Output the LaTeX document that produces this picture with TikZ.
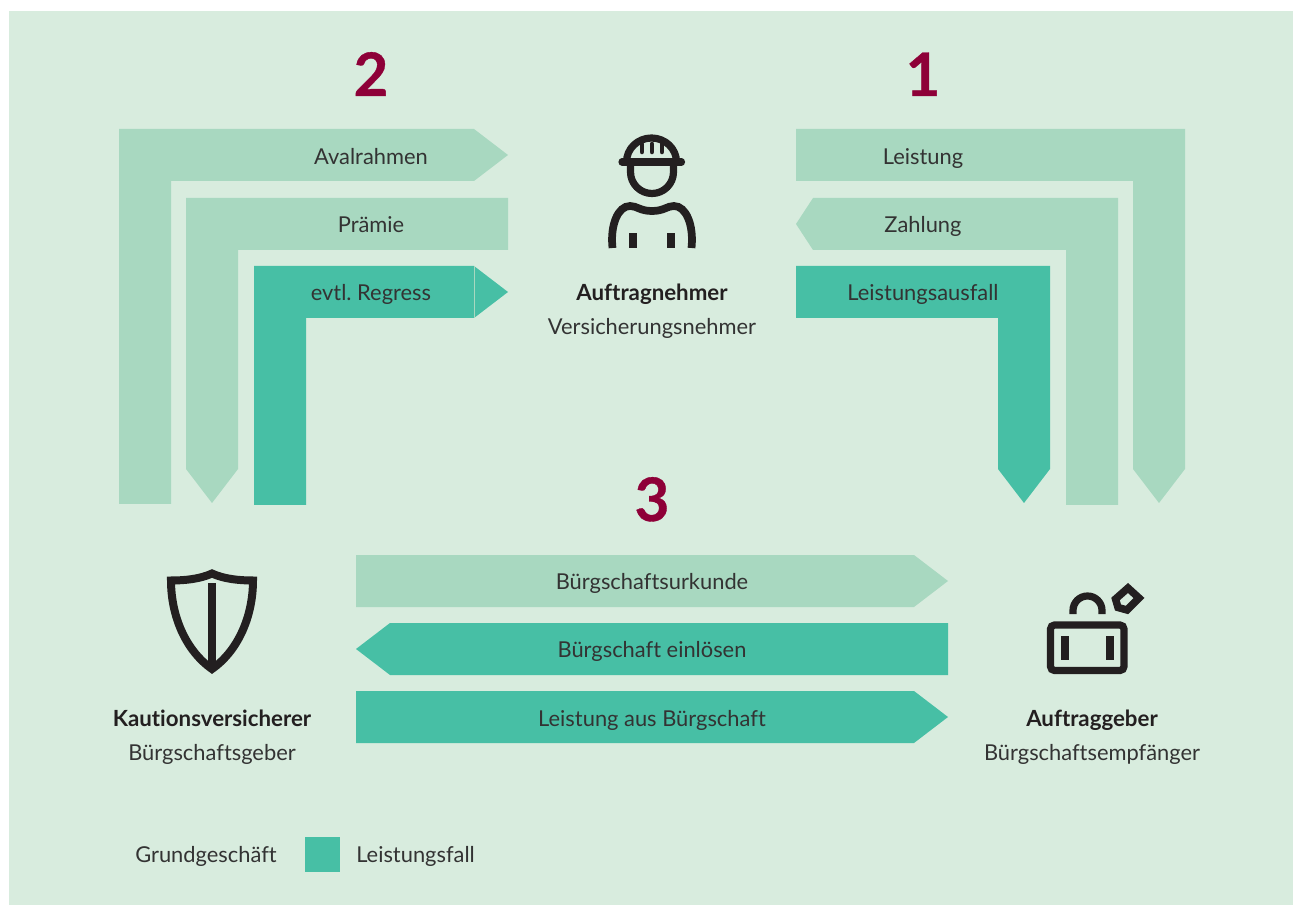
\documentclass[tikz,border=0pt]{standalone}
\usepackage{fontspec}
\setmainfont{Lato}[Ligatures=NoCommon]
\newfontfamily\digitfont{Lato}[BoldFeatures={FakeBold=0.6}]
\frenchspacing
\definecolor{bggreen}{HTML}{D8ECDE}
\definecolor{grundgreen}{HTML}{A8D8C0}
\definecolor{fallgreen}{HTML}{47BFA5}
\definecolor{numred}{HTML}{8E0038}
\definecolor{ink}{HTML}{333333}
\definecolor{iconink}{HTML}{231F20}
\tikzset{
  grund/.style={fill=grundgreen},
  fall/.style={fill=fallgreen},
  num/.style={text=numred,font=\digitfont\bfseries\fontsize{45}{45}\selectfont},
  bold/.style={text=iconink,font=\bfseries\fontsize{16.7}{20}\selectfont},
  icon/.style={draw=iconink,line width=5.4pt},
  iconthin/.style={draw=iconink,line width=3.4pt,line cap=round},
  iconbar/.style={fill=iconink}
}
\begin{document}
\begin{tikzpicture}[x=0.75pt,y=0.75pt]
\tikzstyle{every node}+=[inner sep=0pt,anchor=base,text=ink,font=\fontsize{16.4}{20}\selectfont]
\useasboundingbox (0,0) rectangle (1293,-905);
\fill[bggreen] (9,-11) rectangle (1293,-905);

% left block
\fill[grund] (119,-129) -- (474,-129) -- (508,-155) -- (474,-181) -- (171,-181) -- (171,-504) -- (119,-504) -- cycle;
\fill[grund] (186,-198) -- (508,-198) -- (508,-250) -- (238,-250) -- (238,-469) -- (212,-503) -- (186,-469) -- cycle;
\fill[fall] (254,-266) -- (474,-266) -- (508,-292) -- (474,-318) -- (306,-318) -- (306,-505) -- (254,-505) -- cycle;
\draw[grundgreen,line width=0.5pt] (474,-266) -- (474,-318);

% right block
\fill[grund] (796,-129) -- (1185,-129) -- (1185,-469) -- (1159,-503) -- (1133,-469) -- (1133,-181) -- (796,-181) -- cycle;
\fill[grund] (796,-224) -- (813,-198) -- (1118,-198) -- (1118,-505) -- (1066,-505) -- (1066,-250) -- (813,-250) -- cycle;
\fill[fall] (796,-266) -- (1050,-266) -- (1050,-469) -- (1024,-503) -- (998,-469) -- (998,-318) -- (796,-318) -- cycle;

% lower block
\fill[grund] (356,-555) -- (914,-555) -- (948,-581) -- (914,-607) -- (356,-607) -- cycle;
\fill[fall] (356,-649) -- (390,-623) -- (948,-623) -- (948,-675) -- (390,-675) -- cycle;
\fill[fall] (356,-691) -- (914,-691) -- (948,-717) -- (914,-743) -- (356,-743) -- cycle;

% numbers
\draw (371,-96) node[num] (num2) {2};
\draw (923,-96) node[num] (num1) {1};
\draw (652,-521) node[num] (num3) {3};

% labels
\draw (371,-164.8) node (avalrahmen) {Avalrahmen};
\draw (371,-232.8) node (praemie) {Prämie};
\draw (371,-300.8) node (regress) {evtl. Regress};
\draw (923,-164.8) node (leistung) {Leistung};
\draw (923,-232.8) node (zahlung) {Zahlung};
\draw (923,-300.8) node (ausfall) {Leistungsausfall};
\draw (652,-589.8) node (urkunde) {Bürgschaftsurkunde};
\draw (652,-657.8) node (einloesen) {Bürgschaft einlösen};
\draw (652,-726.8) node (ausbuerg) {Leistung aus Bürgschaft};

\draw (652,-300.8) node[bold] (nehmer) {Auftragnehmer};
\draw (652,-334.8) node (versnehmer) {Versicherungsnehmer};
\draw (212,-726.8) node[bold] (kaution) {Kautionsversicherer};
\draw (212,-760.8) node (buergeber) {Bürgschaftsgeber};
\draw (1092,-726.8) node[bold] (geber) {Auftraggeber};
\draw (1092,-760.8) node (empfaenger) {Bürgschaftsempfänger};

% legend
\draw (206,-862.8) node (grundgeschaeft) {Grundgeschäft};
\fill[fall] (305,-837) rectangle (340,-872);
\draw (356,-862.8) node[anchor=base west] (legfall) {Leistungsfall};

% worker
\draw[icon] (626.5,-162) arc (180:0:25 and 24);
\draw[icon,line cap=round] (622,-162) -- (681.5,-162);
\draw[iconthin] (642,-144) -- (642,-152);
\draw[iconthin] (652,-144) -- (652,-152);
\draw[iconthin] (662,-144) -- (662,-152);
\draw[icon] (630.5,-162) -- (630.5,-172) arc (180:360:21.5) -- (673.5,-162);
\draw[icon,line width=5.8pt] (612.5,-248) .. controls (610,-225) and (618,-206) .. (630,-206) .. controls (637,-206) and (640,-211) .. (652,-211) .. controls (664,-211) and (667,-206) .. (674,-206) .. controls (686,-206) and (694,-225) .. (691.5,-248);
\fill[iconbar] (629,-233) rectangle (637,-248);
\fill[iconbar] (667,-233) rectangle (675,-248);

% shield
\draw[icon,line width=6pt,miter limit=6] (212,-573.5) .. controls (200,-579) and (185,-580.5) .. (171,-580.5) .. controls (171,-615) and (185,-650) .. (212,-669) .. controls (239,-650) and (253,-615) .. (253,-580.5) .. controls (239,-580.5) and (224,-579) .. (212,-573.5) -- cycle;
\fill[iconbar] (208.3,-582.7) rectangle (216,-669);

% case
\draw[icon,rounded corners=3] (1050.5,-625) rectangle (1124,-670.5);
\fill[iconbar] (1061,-636) rectangle (1069,-660);
\fill[iconbar] (1106,-636) rectangle (1114,-660);
\draw[icon] (1073,-614) -- (1073,-610.5) arc (180:0:14.5) -- (1102,-614);
\draw[icon,line width=5.6pt] (1128,-588) -- (1139,-598) -- (1127,-610) -- (1118,-607.5) -- (1115.5,-599) -- cycle;
\end{tikzpicture}
\end{document}
